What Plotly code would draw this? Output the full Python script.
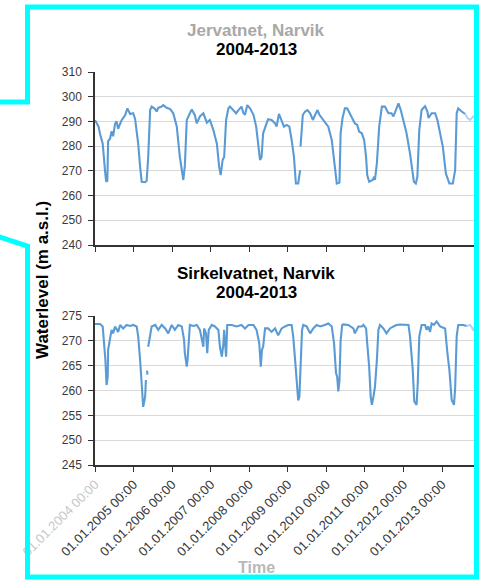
import plotly.graph_objects as go

# ---------------- data (decimal years, metres a.s.l.) ----------------
jerv_years = [
    2004.00, 2004.09, 2004.13, 2004.20, 2004.26, 2004.29, 2004.32, 2004.34, 2004.39, 2004.43,
    2004.47, 2004.52, 2004.56, 2004.60, 2004.65, 2004.69, 2004.78, 2004.84, 2004.91, 2004.99,
    2005.04, 2005.12, 2005.17, 2005.21, 2005.30, 2005.34, 2005.38, 2005.43, 2005.47, 2005.56,
    2005.60, 2005.64, 2005.73, 2005.77, 2005.86, 2005.95, 2006.03, 2006.12, 2006.20, 2006.29,
    2006.33, 2006.38, 2006.46, 2006.51, 2006.59, 2006.64, 2006.72, 2006.81, 2006.90, 2006.98,
    2007.07, 2007.16, 2007.22, 2007.26, 2007.31, 2007.35, 2007.40, 2007.46, 2007.50, 2007.59,
    2007.66, 2007.72, 2007.80, 2007.85, 2007.89, 2007.95, 2008.02, 2008.11, 2008.18, 2008.24,
    2008.28, 2008.32, 2008.36, 2008.45, 2008.49, 2008.58, 2008.67, 2008.71, 2008.77, 2008.84,
    2008.90, 2008.97, 2009.04, 2009.10, 2009.16, 2009.21, 2009.27, 2009.32, 2009.325, 2009.33,
    2009.39, 2009.45, 2009.51, 2009.58, 2009.65, 2009.71, 2009.77, 2009.82, 2009.88, 2009.96,
    2010.05, 2010.14, 2010.22, 2010.27, 2010.34, 2010.37, 2010.42, 2010.48, 2010.54, 2010.61,
    2010.68, 2010.74, 2010.80, 2010.85, 2010.92, 2010.98, 2011.03, 2011.06, 2011.11, 2011.20,
    2011.24, 2011.26, 2011.31, 2011.37, 2011.44, 2011.52, 2011.61, 2011.69, 2011.74, 2011.81,
    2011.87, 2011.93, 2012.00, 2012.08, 2012.17, 2012.24, 2012.27, 2012.32, 2012.36, 2012.41,
    2012.47, 2012.56, 2012.62, 2012.65, 2012.73, 2012.82, 2012.88, 2012.95, 2013.02, 2013.10,
    2013.19, 2013.28, 2013.34, 2013.38, 2013.42, 2013.51, 2013.60, 2013.66, 2013.73, 2013.81,
    2013.90,
]
jerv_levels = [
    290.5, 288.0, 285.0, 281.0, 270.0, 265.6, 266.0, 282.0, 283.0, 286.0,
    284.0, 289.0, 290.0, 287.0, 289.0, 290.5, 292.5, 295.3, 293.0, 293.3,
    291.0, 281.0, 271.7, 265.6, 265.4, 266.0, 275.7, 294.6, 296.0, 295.0,
    294.0, 295.5, 296.0, 296.6, 295.5, 295.0, 293.3, 288.0, 275.7, 266.3,
    272.0, 290.5, 293.3, 294.8, 292.5, 289.2, 292.0, 293.3, 289.5, 290.6,
    286.5, 281.0, 271.7, 268.3, 274.4, 275.6, 290.6, 295.3, 296.0, 294.6,
    293.3, 294.6, 296.0, 293.3, 292.7, 296.6, 295.3, 292.7, 287.9, 279.8,
    274.4, 275.6, 285.2, 289.2, 290.9, 290.6, 289.2, 287.9, 293.0, 290.3,
    287.9, 288.6, 287.9, 282.5, 275.6, 264.9, 264.9, 270.3, None, 279.8,
    292.7, 294.0, 294.6, 293.3, 290.6, 292.7, 294.6, 292.7, 291.4, 290.0,
    287.9, 282.5, 271.7, 264.9, 265.3, 285.2, 291.4, 295.3, 295.3, 293.3,
    291.4, 289.2, 288.6, 285.9, 285.2, 282.5, 275.6, 268.3, 265.6, 266.3,
    267.6, 266.3, 273.0, 287.9, 296.0, 296.0, 293.3, 293.3, 292.0, 294.6,
    297.3, 294.6, 290.0, 285.2, 277.0, 268.9, 265.6, 264.9, 267.6, 286.5,
    294.6, 296.2, 294.0, 291.4, 293.3, 293.3, 290.6, 285.2, 279.8, 268.9,
    264.9, 264.9, 270.3, 293.3, 295.3, 294.0, 293.0, 291.4, 290.6, 292.0,
    291.4,
]

sirk_years = [
    2004.00, 2004.13, 2004.20, 2004.23, 2004.27, 2004.30, 2004.33, 2004.34, 2004.39, 2004.43,
    2004.47, 2004.52, 2004.60, 2004.65, 2004.73, 2004.82, 2004.91, 2004.99, 2005.08, 2005.12,
    2005.17, 2005.21, 2005.25, 2005.30, 2005.32, 2005.33, 2005.35, 2005.36, 2005.37, 2005.38,
    2005.43, 2005.47, 2005.56, 2005.64, 2005.73, 2005.82, 2005.90, 2005.99, 2006.07, 2006.16,
    2006.25, 2006.31, 2006.33, 2006.38, 2006.40, 2006.44, 2006.46, 2006.55, 2006.64, 2006.72,
    2006.81, 2006.83, 2006.88, 2006.91, 2006.95, 2007.03, 2007.11, 2007.20, 2007.24, 2007.29,
    2007.33, 2007.35, 2007.40, 2007.43, 2007.55, 2007.67, 2007.80, 2007.89, 2007.98, 2008.11,
    2008.19, 2008.26, 2008.30, 2008.33, 2008.36, 2008.41, 2008.49, 2008.58, 2008.67, 2008.75,
    2008.84, 2008.93, 2009.01, 2009.10, 2009.14, 2009.19, 2009.23, 2009.27, 2009.30, 2009.33,
    2009.37, 2009.40, 2009.49, 2009.58, 2009.66, 2009.75, 2009.84, 2009.96, 2010.05, 2010.14,
    2010.20, 2010.25, 2010.28, 2010.31, 2010.34, 2010.37, 2010.41, 2010.44, 2010.57, 2010.70,
    2010.74, 2010.83, 2010.92, 2010.96, 2011.03, 2011.06, 2011.11, 2011.15, 2011.18, 2011.22,
    2011.26, 2011.31, 2011.35, 2011.39, 2011.48, 2011.56, 2011.65, 2011.74, 2011.82, 2011.91,
    2012.04, 2012.13, 2012.17, 2012.24, 2012.28, 2012.34, 2012.37, 2012.41, 2012.47, 2012.56,
    2012.60, 2012.64, 2012.69, 2012.73, 2012.79, 2012.86, 2012.95, 2013.08, 2013.14, 2013.19,
    2013.25, 2013.31, 2013.34, 2013.38, 2013.42, 2013.55, 2013.64, 2013.73, 2013.81, 2013.90,
]
sirk_levels = [
    273.4, 273.4, 272.9, 270.2, 266.1, 261.1, 262.8, 268.2, 270.9, 272.2,
    271.5, 272.9, 271.8, 273.2, 272.5, 273.2, 273.0, 273.2, 272.9, 270.9,
    266.1, 260.8, 256.7, 258.7, 262.1, None, 264.0, 263.2, None, 268.8,
    271.5, 272.9, 273.2, 272.2, 273.2, 272.5, 271.5, 273.2, 272.2, 273.2,
    272.9, 270.2, 267.5, 264.8, 266.1, 272.2, 273.2, 273.0, 273.2, 272.2,
    268.8, 272.5, 271.5, 267.5, 272.2, 273.2, 272.9, 272.2, 268.8, 266.8,
    269.5, 272.2, 266.8, 273.2, 273.2, 272.9, 273.2, 272.5, 273.2, 273.2,
    272.2, 269.5, 264.8, 268.2, 268.8, 272.5, 272.5, 271.8, 272.5, 271.1,
    272.5, 272.9, 273.2, 273.2, 270.9, 266.1, 261.4, 258.0, 258.7, 264.8,
    272.2, 273.2, 272.9, 271.5, 272.5, 273.2, 272.9, 273.2, 273.5, 272.9,
    269.5, 263.5, 262.8, 259.8, 262.0, 270.0, 273.2, 273.3, 273.2, 272.5,
    271.5, 272.9, 272.9, 273.2, 272.5, 269.5, 264.8, 258.7, 257.1, 258.7,
    260.7, 266.1, 272.2, 273.2, 272.5, 271.5, 272.5, 272.9, 273.2, 273.3,
    273.2, 273.2, 270.9, 264.2, 257.8, 257.1, 261.4, 270.9, 273.2, 273.2,
    272.2, 272.9, 271.8, 273.5, 273.2, 273.9, 272.9, 272.5, 267.5, 264.2,
    258.1, 257.1, 260.4, 270.9, 273.2, 273.2, 273.0, 273.2, 272.2, 273.5,
]

tick_years = [2004, 2005, 2006, 2007, 2008, 2009, 2010, 2011, 2012, 2013]
tick_labels = ["01.01.%d 00:00" % y for y in tick_years]
top_title = ["Jervatnet, Narvik", "2004-2013"]
bottom_title = ["Sirkelvatnet, Narvik", "2004-2013"]
y_title = "Waterlevel (m a.s.l.)"
x_title = "Time"

# ---------------- layout geometry ----------------
W, H = 479, 580
L, R, T, B = 95, 4, 72, 115
PW, PH = W - L - R, H - T - B
X_RANGE = [2004.0, 2013.855]


def px(xp):
    return (xp - L) / PW


def py(yp):
    return (H - B - yp) / PH


FONT = "Liberation Sans, Arial, sans-serif"
LINE = "#5B9BD5"
FADE = "#B9D3EE"
FADE_FROM = 2013.64

fig = go.Figure()


def add_series(xs, ys, xa, ya):
    main_x = [x for x in xs if x <= FADE_FROM]
    main_y = ys[:len(main_x)]
    tail_x = xs[len(main_x) - 1:]
    tail_y = ys[len(main_x) - 1:]
    fig.add_trace(go.Scatter(x=main_x, y=main_y, mode="lines", xaxis=xa, yaxis=ya,
                             line=dict(color=LINE, width=2.1), connectgaps=False,
                             showlegend=False, hoverinfo="skip"))
    fig.add_trace(go.Scatter(x=tail_x, y=tail_y, mode="lines", xaxis=xa, yaxis=ya,
                             line=dict(color=FADE, width=2.1),
                             showlegend=False, hoverinfo="skip"))


add_series(jerv_years, jerv_levels, "x", "y")
add_series(sirk_years, sirk_levels, "x2", "y2")

ticktext_top = tick_labels
ticktext_bottom = ['<span style="color:#c8c8c8">%s</span>' % tick_labels[0]] + tick_labels[1:]

axis_common = dict(showline=True, linecolor="#333333", linewidth=1.5, ticks="outside",
                   ticklen=5, tickcolor="#333333", tickwidth=1.2, automargin=False,
                   tickfont=dict(family=FONT, size=12, color="#3a3a3a"), zeroline=False)

top_bottom_px = 245
bottom_top_px = 316

fig.update_layout(
    width=W, height=H,
    margin=dict(l=L, r=R, t=T, b=B, autoexpand=False),
    paper_bgcolor="white", plot_bgcolor="white",
    font=dict(family=FONT),
    hovermode=False,
    xaxis=dict(domain=[0, 1], range=X_RANGE, tickvals=tick_years, ticktext=ticktext_top,
               showticklabels=False, showgrid=False, anchor="y", **axis_common),
    yaxis=dict(domain=[py(top_bottom_px), 1], range=[240, 310], dtick=10, showgrid=True,
               gridcolor="#d9d9d9", gridwidth=1, anchor="x", ticklabelstandoff=4,
               **axis_common),
    xaxis2=dict(domain=[0, 1], range=X_RANGE, tickvals=tick_years, ticktext=ticktext_bottom,
                tickangle=-45, showgrid=False, anchor="y2", **axis_common),
    yaxis2=dict(domain=[0, py(bottom_top_px)], range=[245, 275], dtick=5, showgrid=True,
                gridcolor="#d9d9d9", gridwidth=1, anchor="x2", ticklabelstandoff=4,
                **axis_common),
)
fig.update_layout(xaxis2_tickfont=dict(family=FONT, size=13, color="#3a3a3a"))


def note(text, xp, yp, color="#000000", size=17, angle=0):
    fig.add_annotation(text="<b>%s</b>" % text, x=px(xp), y=py(yp), xref="paper", yref="paper",
                       showarrow=False, xanchor="center", yanchor="middle", textangle=angle,
                       font=dict(family=FONT, size=size, color=color))


note(top_title[0], 256, 30, color="#a8a8a8")
note(top_title[1], 256, 49)
note(bottom_title[0], 256, 273)
note(bottom_title[1], 256, 292)
note(y_title, 42, 280, angle=-90)
note(x_title, 256, 567, color="#b8b8b8", size=16)

# cyan callout frame
pts = [(-10, 102), (27.5, 102), (27.5, 7), (476.5, 7), (476.5, 577), (27.5, 577), (27.5, 246), (-10, 234)]
path = "M " + " L ".join("%.5f,%.5f" % (px(a), py(b)) for a, b in pts)
fig.add_shape(type="path", path=path, xref="paper", yref="paper",
              line=dict(color="#00FFFF", width=5), layer="above")

fig.write_html("out.html", config={"displayModeBar": False},
               post_script="document.body.style.margin='0';document.body.style.overflow='hidden';")
